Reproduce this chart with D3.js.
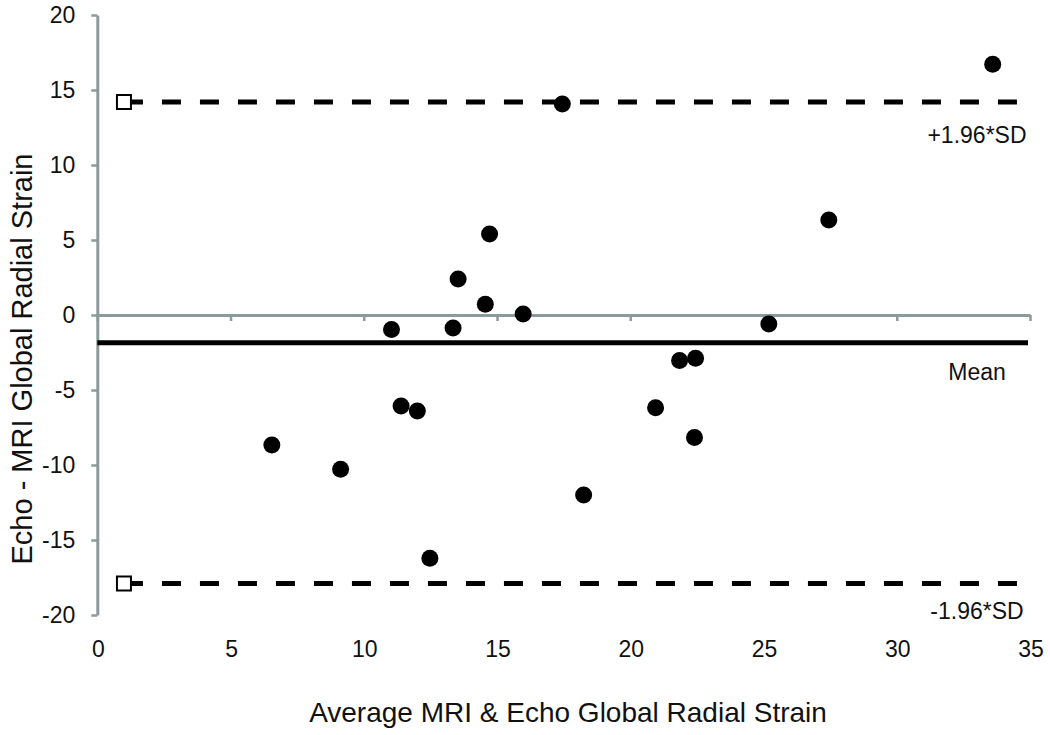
<!DOCTYPE html>
<html>
<head>
<meta charset="utf-8">
<script src="https://cdn.jsdelivr.net/npm/d3@7"></script>
<style>
	body { margin: 0; background: #fff; }
	svg text { font-family: "Liberation Sans", Arial, sans-serif; fill: #111; }
</style>
</head>
<body>
<svg id="chart" width="1050" height="735"></svg>
<script>
// Bland-Altman: average vs difference
var avgValues = [6.55, 9.13, 11.04, 11.4, 12.01, 12.48, 13.35, 13.54, 14.56, 14.72,
	15.98, 17.45, 18.25, 20.95, 21.85, 22.45, 22.41, 25.2, 27.45, 33.6];
var diffValues = [-8.67, -10.29, -0.96, -6.07, -6.4, -16.22, -0.87, 2.4, 0.71, 5.4,
	0.07, 14.07, -12.0, -6.18, -3.04, -2.89, -8.16, -0.6, 6.33, 16.71];

var meanDiff = -1.85;
var upperLimit = 14.2;
var lowerLimit = -17.9;
var limitX = [1, 35];
var meanX = [0, 35];

var xTicks = [0, 5, 10, 15, 20, 25, 30, 35];
var yTicks = [-20, -15, -10, -5, 0, 5, 10, 15, 20];
var lineLabels = ["+1.96*SD", "Mean", "-1.96*SD"];

var xTitle = "Average MRI & Echo Global Radial Strain";
var yTitle = "Echo - MRI Global Radial Strain";

var axisColor = "#8a9b99";
var fmt = function (d) { return String(d); }; // plain hyphen minus, like the original

var svg = d3.select("#chart");

var x = d3.scaleLinear().domain([0, 35]).range([97.3, 1030]);
var y = d3.scaleLinear().domain([-20, 20]).range([615, 15]);

// y axis
var yAxis = svg.append("g")
    .attr("transform", "translate(" + x(0) + ",0)")
    .call(d3.axisLeft(y).tickValues(yTicks).tickSize(6).tickPadding(16).tickSizeOuter(0).tickFormat(fmt));
yAxis.select(".domain").attr("stroke", axisColor).attr("stroke-width", 3);
yAxis.selectAll(".tick line").attr("stroke", axisColor).attr("stroke-width", 2.5);
yAxis.selectAll(".tick text").style("font-size", "23px").attr("fill", "#111");

// x axis sits on zero, labels go to the bottom
var xAxis = svg.append("g")
    .attr("transform", "translate(0," + y(0) + ")")
    .call(d3.axisBottom(x).tickValues(xTicks).tickSize(6).tickSizeOuter(0).tickFormat(""));
xAxis.select(".domain").attr("stroke", axisColor).attr("stroke-width", 3);
xAxis.selectAll(".tick line").attr("stroke", axisColor).attr("stroke-width", 2.5);

svg.append("g").selectAll("text")
    .data(xTicks)
  .enter()
  .append("text")
    .attr("x", function (d) { return x(d) + 1; })
    .attr("y", 657)
    .attr("text-anchor", "middle")
    .style("font-size", "23px")
    .text(fmt);

// mean line
svg.append("line")
    .attr("x1", x(meanX[0]))
    .attr("x2", x(meanX[1]) - 2)
    .attr("y1", y(meanDiff))
    .attr("y2", y(meanDiff))
    .attr("stroke", "#000")
    .attr("stroke-width", 5);

// limits of agreement
[upperLimit, lowerLimit].forEach(function (v) {
	svg.append("line")
	    .attr("x1", x(limitX[0]))
	    .attr("x2", x(limitX[1]))
	    .attr("y1", y(v))
	    .attr("y2", y(v))
	    .attr("stroke", "#000")
	    .attr("stroke-width", 5)
	    .attr("stroke-dasharray", "19,19");
	svg.append("rect")
	    .attr("x", x(limitX[0]) - 7)
	    .attr("y", y(v) - 7)
	    .attr("width", 14)
	    .attr("height", 14)
	    .attr("fill", "#fff")
	    .attr("stroke", "#000")
	    .attr("stroke-width", 2);
});

// points
svg.append("g").selectAll("circle")
    .data(avgValues)
  .enter()
  .append("circle")
    .attr("cx", function (d) { return x(d); })
    .attr("cy", function (d, i) { return y(diffValues[i]); })
    .attr("r", 8.5)
    .attr("fill", "#000");

// line labels, baseline a little under each line
var labelY = [upperLimit - 2.73, meanDiff - 2.5, lowerLimit - 2.37];
svg.append("g").selectAll("text")
    .data(lineLabels)
  .enter()
  .append("text")
    .attr("x", 977)
    .attr("y", function (d, i) { return y(labelY[i]); })
    .attr("text-anchor", "middle")
    .style("font-size", "23px")
    .text(function (d) { return d; });

// axis titles
svg.append("text")
    .attr("x", 568)
    .attr("y", 722)
    .attr("text-anchor", "middle")
    .style("font-size", "28px")
    .text(xTitle);

svg.append("text")
    .attr("transform", "translate(32,359) rotate(-90)")
    .attr("text-anchor", "middle")
    .style("font-size", "29px")
    .text(yTitle);
</script>
</body>
</html>
